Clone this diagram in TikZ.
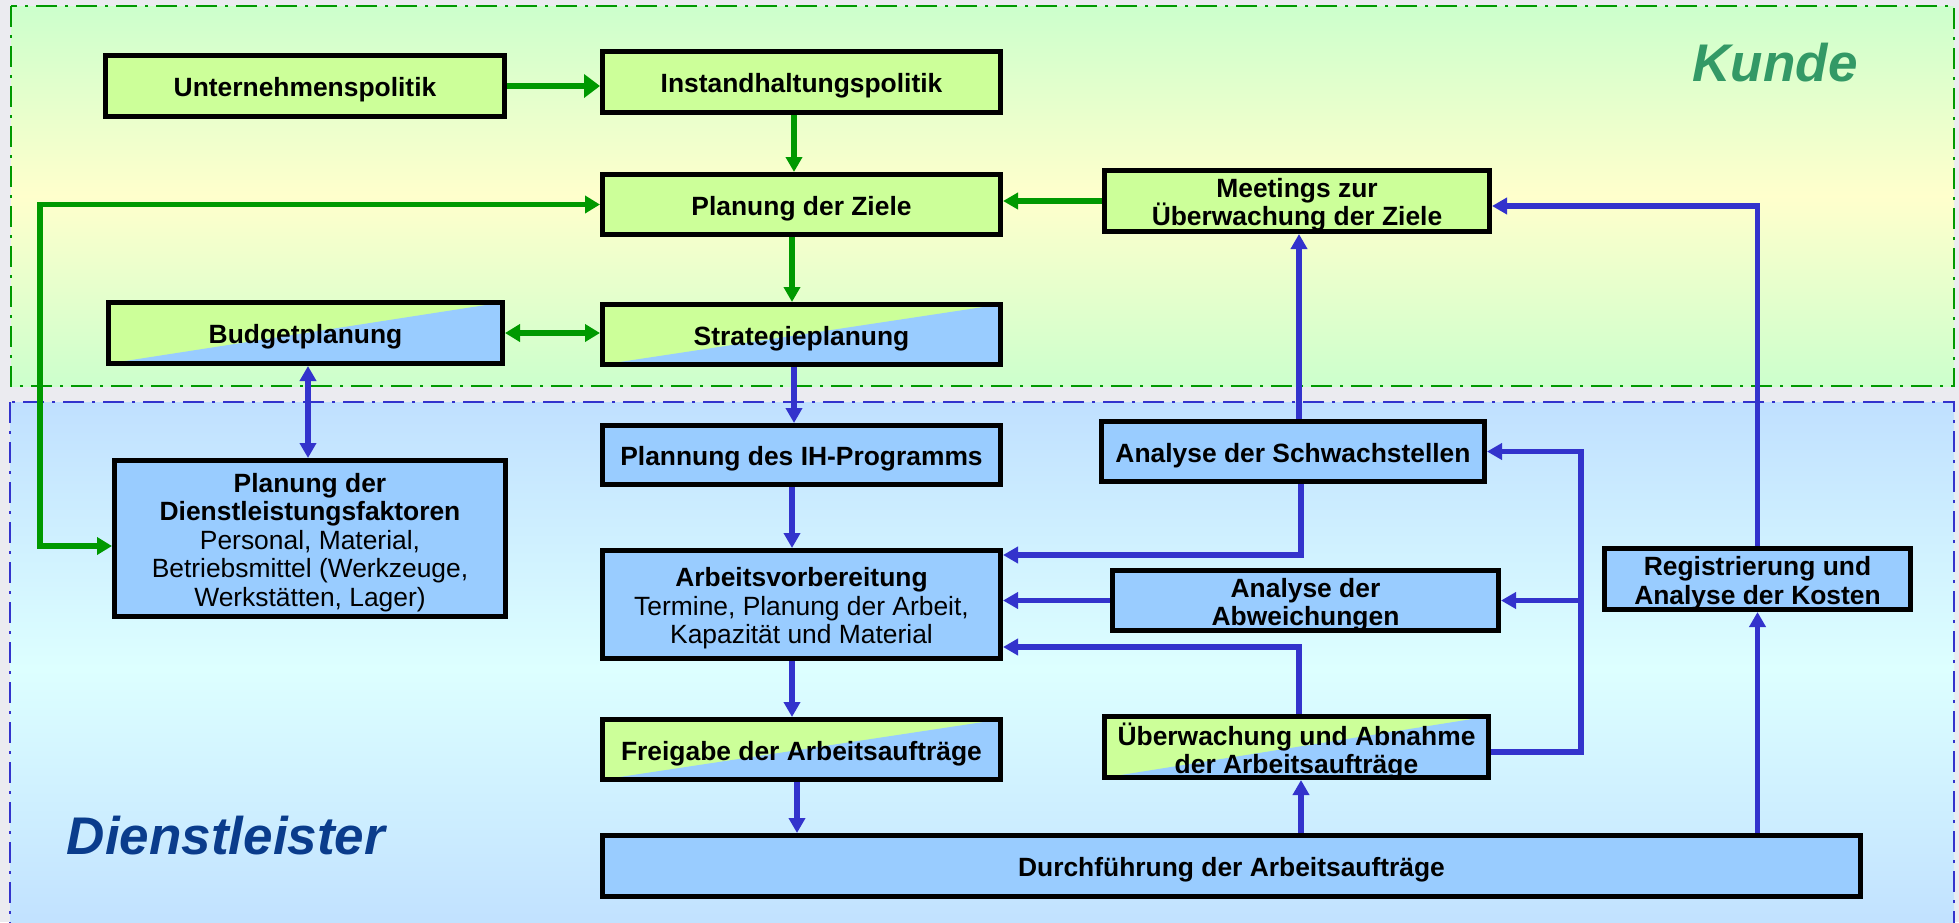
\documentclass[tikz,border=0pt]{standalone}
\usepackage{fontspec}
\setmainfont{Liberation Sans}
\usetikzlibrary{arrows.meta,calc}

\definecolor{bgGray}{HTML}{EBEBF0}
\definecolor{kundeTop}{HTML}{CCFFCC}
\definecolor{kundeMid}{HTML}{FFFFCC}
\definecolor{dlTop}{HTML}{C0E0FF}
\definecolor{dlMid}{HTML}{DDFFFF}
\definecolor{lineGreen}{HTML}{009900}
\definecolor{lineBlue}{HTML}{3333CC}
\definecolor{boxGreen}{HTML}{CCFF99}
\definecolor{boxBlue}{HTML}{99CCFF}
\definecolor{kundeText}{HTML}{339966}
\definecolor{dlText}{HTML}{0A3C8C}

\tikzset{
  block/.style={draw=black, line width=2.4pt, inner sep=0pt},
  greenbox/.style={block, fill=boxGreen},
  bluebox/.style={block, fill=boxBlue},
  splitbox/.style={block, fill=boxGreen,
    path picture={\fill[boxBlue] (path picture bounding box.south west)
      -- (path picture bounding box.north east)
      -- (path picture bounding box.south east) -- cycle;}},
  blocktext/.style={inner sep=0pt, align=center,
    font=\fontsize{13.2}{14.2}\selectfont\bfseries},
  garrow/.style={draw=lineGreen, line width=2.6pt, -{Triangle[length=7.5pt,width=8pt]}},
  gbig/.style={draw=lineGreen, line width=2.8pt, -{Triangle[length=8pt,width=11.5pt]}},
  gboth/.style={draw=lineGreen, line width=2.6pt, {Triangle[length=7.5pt,width=8.5pt]}-{Triangle[length=7.5pt,width=8.5pt]}},
  barrow/.style={draw=lineBlue, line width=2.6pt, -{Triangle[length=7.5pt,width=8pt]}},
  bboth/.style={draw=lineBlue, line width=2.6pt, {Triangle[length=7.5pt,width=8pt]}-{Triangle[length=7.5pt,width=8pt]}},
  zoneline/.style={line width=1.3pt, dash pattern=on 10.5pt off 4pt on 1.5pt off 4pt},
  zonetitle/.style={font=\fontsize{26.5}{30}\selectfont\bfseries\itshape, anchor=base, inner sep=0pt}
}

% block given by its outer corners (x1,y1) and (x2,y2) in pixel units,
% with its text set slightly below the geometric centre
\newcommand\blockat[7]{%
  \node[#1, minimum width={(#5-#3-4.8)*0.5pt}, minimum height={(#6-#4-4.8)*0.5pt}]
    (#2) at ({(#3+#5)/2},{(#4+#6)/2}) {};
  \node[blocktext] (#2-text) at ([yshift=-2pt]#2.center) {#7};}

\begin{document}
\begin{tikzpicture}[x=0.5pt,y=-0.5pt]
  \useasboundingbox (0,0) rectangle (1959,922);
  \clip (0,0) rectangle (1959,922);
  \fill[bgGray] (0,0) rectangle (1959,922);

  % customer zone
  \shade[top color=kundeTop, bottom color=kundeTop, middle color=kundeMid]
    (11,6) rectangle (1954,386);
  \draw[lineGreen, zoneline] (11,6) rectangle (1954,386);

  % service provider zone
  \shade[top color=dlTop, bottom color=dlTop, middle color=dlMid]
    (10,402) rectangle (1954,935);
  \draw[lineBlue, zoneline] (10,402) rectangle (1954,935);

  \node[zonetitle, text=kundeText] (kunde) at (1775,81) {Kunde};
  \node[zonetitle, text=dlText] (dienst) at (226,854) {Dienstleister};

  % blocks
  \blockat{greenbox}{unt}{103}{53}{507}{119}{Unternehmenspolitik}
  \blockat{greenbox}{ins}{600}{49}{1003}{115}{Instandhaltungspolitik}
  \blockat{greenbox}{ziele}{600}{172}{1003}{237}{Planung der Ziele}
  \blockat{greenbox}{meet}{1102}{168}{1492}{234}{Meetings zur\\Überwachung der Ziele}
  \blockat{splitbox}{budget}{106}{300}{505}{366}{Budgetplanung}
  \blockat{splitbox}{strat}{600}{302}{1003}{367}{Strategieplanung}

  \blockat{bluebox}{dlf}{112}{458}{508}{619}{Planung der\\Dienstleistungsfaktoren\\\mdseries Personal, Material,\\\mdseries Betriebsmittel (Werkzeuge,\\\mdseries Werkstätten, Lager)}
  \blockat{bluebox}{ihp}{600}{423}{1003}{487}{Plannung des IH-Programms}
  \blockat{bluebox}{av}{600}{548}{1003}{661}{Arbeitsvorbereitung\\\mdseries Termine, Planung der Arbeit,\\\mdseries Kapazität und Material}
  \blockat{splitbox}{frei}{600}{717}{1003}{782}{Freigabe der Arbeitsaufträge}
  \blockat{bluebox}{durch}{600}{833}{1863}{899}{Durchführung der Arbeitsaufträge}
  \blockat{bluebox}{schw}{1099}{419}{1487}{484}{Analyse der Schwachstellen}
  \blockat{bluebox}{abw}{1110}{568}{1501}{633}{Analyse der\\Abweichungen}
  \blockat{splitbox}{ueb}{1102}{714}{1491}{780}{Überwachung und Abnahme\\der Arbeitsaufträge}
  \blockat{bluebox}{reg}{1602}{546}{1913}{612}{Registrierung und\\Analyse der Kosten}

  % customer-side connectors
  \draw[gbig] (unt.east) -- (unt.east -| ins.west);
  \draw[garrow] ([xshift=-3.75pt]ins.south) -- ([xshift=-3.75pt]ziele.north);
  \draw[garrow] ([xshift=-4.75pt]ziele.south) -- ([xshift=-4.75pt]strat.north);
  \draw[garrow] (meet.west) -- (meet.west -| ziele.east);
  \draw[gboth] (budget.east) -- (budget.east -| strat.west);
  \draw[gboth] (ziele.west) -| ([xshift=-36pt,yshift=-3.75pt]dlf.west) -- ([yshift=-3.75pt]dlf.west);

  % provider-side connectors
  \draw[bboth] ([xshift=1.25pt]budget.south) -- ([xshift=-1pt]dlf.north);
  \draw[barrow] ([xshift=-3.75pt]strat.south) -- ([xshift=-3.75pt]ihp.north);
  \draw[barrow] ([xshift=-4.75pt]ihp.south) -- ([xshift=-4.75pt]av.north);
  \draw[barrow] ([xshift=-4.75pt]av.south) -- ([xshift=-4.75pt]frei.north);
  \draw[barrow] ([xshift=-2.25pt]frei.south) -- ($(frei.south |- durch.north)+(-2.25pt,0)$);
  \draw[barrow] ([xshift=4pt]schw.south) |- ([yshift=24.75pt]av.east);
  \draw[barrow] (abw.west) -- (abw.west -| av.east);
  \draw[barrow] ([xshift=1.25pt]ueb.north) |- ([yshift=-21.25pt]av.east);
  \coordinate (jn) at (1581,600.5);
  \draw[barrow] ([yshift=-2.5pt]ueb.east) -| (jn) |- (schw.east);
  \draw[barrow] (jn) -- (abw.east);
  \draw[barrow] ($(ueb.south |- durch.north)+(2.25pt,0)$) -- ([xshift=2.25pt]ueb.south);
  \draw[barrow] (reg.south |- durch.north) -- (reg.south);
  \draw[barrow] (reg.north) |- ([yshift=-2.5pt]meet.east);
  \draw[barrow] ([xshift=3pt]schw.north) -- ([xshift=1pt]meet.south);
\end{tikzpicture}
\end{document}
